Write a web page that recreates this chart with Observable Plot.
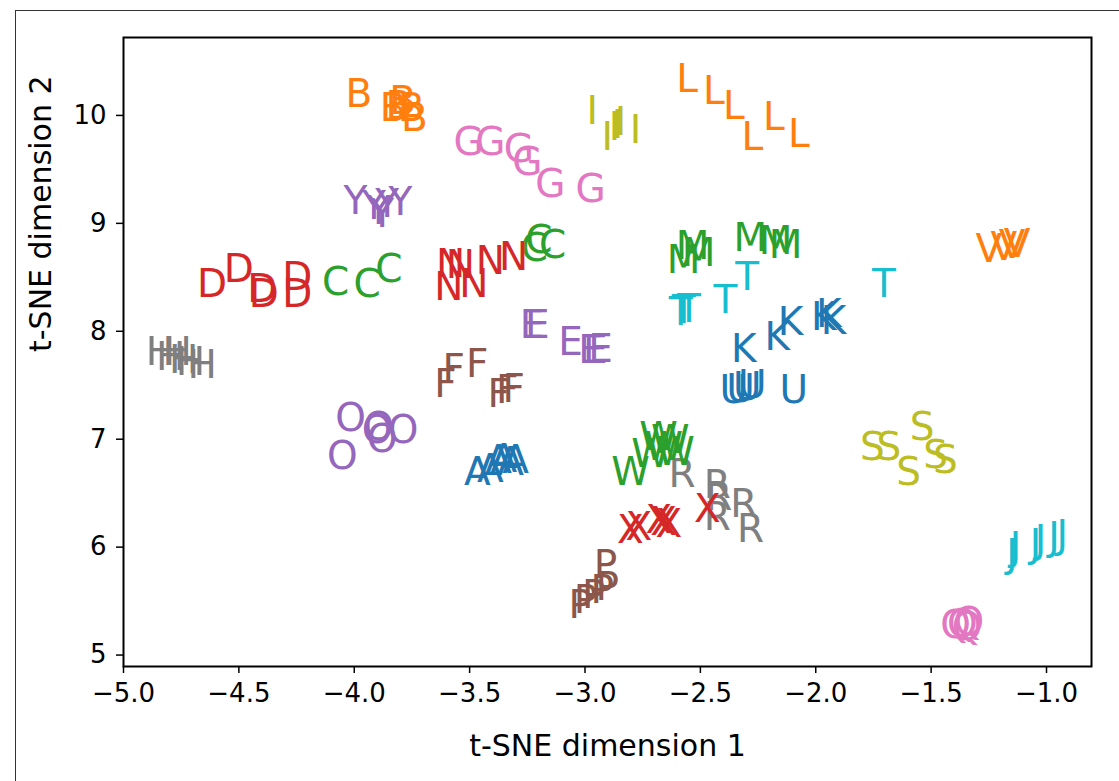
<!DOCTYPE html>
<html>
<head>
<meta charset="utf-8">
<script src="https://cdn.jsdelivr.net/npm/d3@7"></script>
<script src="https://cdn.jsdelivr.net/npm/@observablehq/plot@0.6"></script>
<style>
  html, body { margin: 0; padding: 0; background: #fff; }
  #wrap { position: relative; width: 1119px; height: 781px; overflow: hidden; }
  #border { position: absolute; left: 15px; top: 10px; width: 1200px; height: 900px;
            border-left: 1.5px solid #333; border-top: 1.5px solid #333; pointer-events: none; }
  #chart { position: absolute; left: 0; top: 0; }
</style>
</head>
<body>
<div id="wrap"><div id="chart"></div><div id="border"></div></div>
<script>
// Letter clusters (t-SNE coordinates)
const A = [[-3.467,6.691],[-3.410,6.722],[-3.374,6.799],[-3.352,6.815],[-3.323,6.783],[-3.301,6.799]];
const B = [[-3.980,10.194],[-3.831,10.068],[-3.807,10.087],[-3.790,10.130],[-3.753,10.068],[-3.739,9.975]];
const C = [[-4.081,8.450],[-3.944,8.435],[-3.850,8.574],[-3.200,8.843],[-3.140,8.790],[-3.219,8.771]];
const D = [[-4.616,8.435],[-4.500,8.574],[-4.399,8.389],[-4.392,8.343],[-4.247,8.496],[-4.247,8.343]];
const E = [[-3.229,8.049],[-3.207,8.049],[-3.063,7.894],[-2.976,7.818],[-2.955,7.818],[-2.933,7.833]];
const F = [[-3.605,7.509],[-3.569,7.648],[-3.467,7.694],[-3.374,7.417],[-3.337,7.447],[-3.309,7.463]];
const G = [[-3.504,9.746],[-3.410,9.746],[-3.287,9.685],[-3.250,9.561],[-3.150,9.361],[-2.976,9.315]];
const H = [[-4.840,7.802],[-4.796,7.756],[-4.767,7.802],[-4.739,7.725],[-4.710,7.709],[-4.659,7.679]];
const I = [[-2.969,10.040],[-2.904,9.793],[-2.872,9.892],[-2.859,9.910],[-2.846,9.938],[-2.781,9.864]];
const J = [[-1.149,5.935],[-1.134,5.996],[-1.048,6.028],[-1.026,6.058],[-0.968,6.089],[-0.932,6.105]];
const K = [[-2.312,7.833],[-2.167,7.941],[-2.109,8.080],[-1.965,8.126],[-1.943,8.157],[-1.923,8.095]];
const L = [[-2.557,10.333],[-2.442,10.225],[-2.355,10.086],[-2.275,9.793],[-2.182,9.978],[-2.073,9.824]];
const M = [[-2.573,8.660],[-2.534,8.781],[-2.508,8.725],[-2.283,8.855],[-2.174,8.836],[-2.131,8.790]];
const N = [[-3.583,8.620],[-3.590,8.404],[-3.540,8.605],[-3.482,8.435],[-3.410,8.651],[-3.309,8.681]];
const O = [[-4.016,7.194],[-4.052,6.836],[-3.894,7.107],[-3.879,7.000],[-3.788,7.077],[-3.901,7.077]];
const P = [[-2.911,5.827],[-2.998,5.503],[-2.962,5.549],[-2.925,5.595],[-2.904,5.626],[-3.020,5.456]];
const Q = [[-1.394,5.271],[-1.365,5.287],[-1.337,5.302],[-1.344,5.256]];
const R = [[-2.579,6.676],[-2.427,6.568],[-2.420,6.459],[-2.427,6.274],[-2.312,6.398],[-2.283,6.167]];
const S = [[-1.755,6.922],[-1.683,6.922],[-1.597,6.691],[-1.539,7.107],[-1.481,6.845],[-1.438,6.799]];
const T = [[-2.586,8.172],[-2.572,8.188],[-2.550,8.204],[-2.391,8.281],[-2.297,8.496],[-1.705,8.435]];
const U = [[-2.355,7.447],[-2.326,7.463],[-2.297,7.478],[-2.275,7.494],[-2.095,7.447]];
const V = [[-1.250,8.759],[-1.185,8.774],[-1.149,8.790],[-1.127,8.806]];
const W = [[-2.803,6.691],[-2.716,6.861],[-2.659,6.922],[-2.630,6.984],[-2.608,6.876],[-2.681,7.012]];
const X = [[-2.803,6.151],[-2.767,6.181],[-2.680,6.244],[-2.659,6.228],[-2.637,6.213],[-2.470,6.352]];
const Y = [[-3.995,9.206],[-3.915,9.160],[-3.894,9.114],[-3.879,9.083],[-3.857,9.176],[-3.800,9.191]];

const letters = ["A","B","C","D","E","F","G","H","I","J","K","L","M","N","O","P","Q","R","S","T","U","V","W","X","Y"];
const tab10 = ["#1f77b4","#ff7f0e","#2ca02c","#d62728","#9467bd","#8c564b","#e377c2","#7f7f7f","#bcbd22","#17becf"];
const xTicks = [-5.0,-4.5,-4.0,-3.5,-3.0,-2.5,-2.0,-1.5,-1.0];
const yTicks = [5,6,7,8,9,10];
const xLabel = "t-SNE dimension 1";
const yLabel = "t-SNE dimension 2";

const clusters = {A,B,C,D,E,F,G,H,I,J,K,L,M,N,O,P,Q,R,S,T,U,V,W,X,Y};
const rows = letters.flatMap(l => clusters[l].map(([x, y]) => ({letter: l, x, y})));

const chart = Plot.plot({
  width: 1119,
  height: 781,
  marginLeft: 123,
  marginRight: 28,
  marginTop: 37,
  marginBottom: 115,
  style: {fontFamily: "DejaVu Sans", fontSize: "26px", background: "transparent", color: "black"},
  x: {domain: [-5.0, -0.805]},
  y: {domain: [4.894, 10.722]},
  color: {domain: letters, range: letters.map((_, i) => tab10[i % 10])},
  marks: [
    Plot.text(rows, {x: "x", y: "y", text: "letter", fill: "letter", fontSize: 39,
                     textAnchor: "middle", lineAnchor: "middle"}),
    Plot.frame({stroke: "black", strokeWidth: 2}),
    Plot.axisX({ticks: xTicks, tickFormat: d3.format(".1f"), tickSize: 7, tickPadding: 10,
                strokeWidth: 1.5, label: null, fontSize: 26}),
    Plot.axisY({ticks: yTicks, tickFormat: d3.format("d"), tickSize: 7, tickPadding: 10,
                strokeWidth: 1.5, label: null, fontSize: 26}),
    Plot.text([xLabel], {frameAnchor: "bottom", text: d => d, dy: 80, fontSize: 30, lineAnchor: "middle"}),
    Plot.text([yLabel], {frameAnchor: "left", text: d => d, dx: -82, rotate: -90, fontSize: 30, lineAnchor: "middle"})
  ]
});
document.getElementById("chart").appendChild(chart);
</script>
</body>
</html>
